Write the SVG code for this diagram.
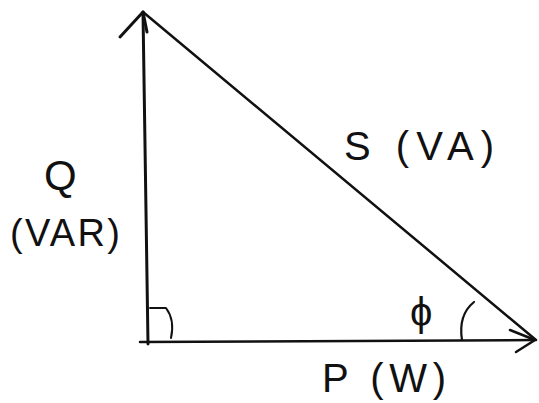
<svg xmlns="http://www.w3.org/2000/svg" width="539" height="403" viewBox="0 0 539 403">
<style>
.ln{stroke:#111;stroke-width:3;fill:none;stroke-linecap:round;stroke-linejoin:round}
.tx{font-family:"Liberation Sans",sans-serif;fill:#111}
</style>
<rect width="539" height="403" fill="#fff"/>
<g id="connectors">
<path id="q-axis" class="ln" d="M148,344 L143,12"/>
<path class="ln" d="M120,37 L143,12 L147,32"/>
<path id="p-axis" class="ln" d="M140,342 L535,340" style="stroke-width:2.5"/>
<path class="ln" d="M510,330 L535,340 L516,352" style="stroke-width:2.5"/>
<path id="s-line" class="ln" d="M143,12 L536,340" style="stroke-width:2.5"/>
</g>
<g id="right-angle"><path class="ln" d="M150,308 L166,308 Q175,320 171,338" style="stroke-width:2"/></g>
<g id="phi-arc"><path class="ln" d="M474,302 Q458,315 462,340" style="stroke-width:2.2"/></g>
<g id="label-q"><text class="tx" x="44" y="190" font-size="42">Q</text><text class="tx" x="10" y="246" font-size="38" textLength="110">(VAR)</text></g>
<g id="label-s"><text class="tx" x="344" y="160" font-size="40" textLength="150">S (VA)</text></g>
<g id="label-phi"><text class="tx" x="410" y="326" font-size="40">ϕ</text></g>
<g id="label-p"><text class="tx" x="322" y="392" font-size="40" textLength="124">P (W)</text></g>
</svg>
